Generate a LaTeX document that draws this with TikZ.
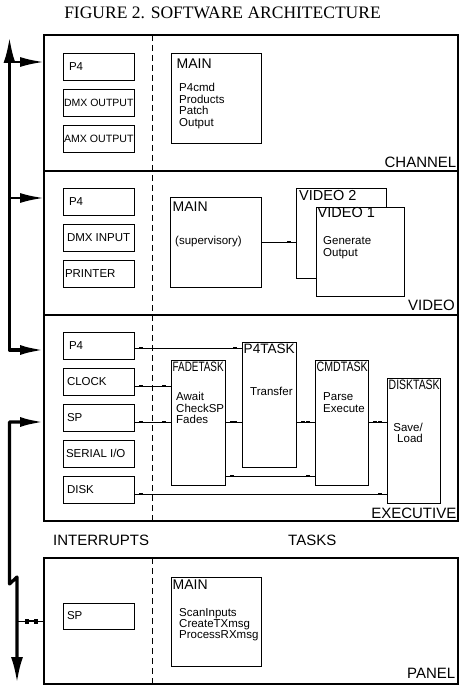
\documentclass[tikz,border=0pt]{standalone}
\usepackage{fontspec}
\setmainfont{Liberation Sans}
\newfontfamily\ttlfont{Liberation Serif}
\usepackage{graphicx}
\usetikzlibrary{arrows.meta,decorations.markings}
\newcommand{\fsz}[2]{\fontsize{#1}{#2}\selectfont}
\newcommand{\tsk}[1]{\resizebox{51pt}{9.5pt}{#1}}
\newcommand{\lbl}[1]{\makebox[63pt][l]{#1}}
\newcommand{\wlbl}[1]{\makebox[63pt][l]{\hspace{-3pt}\resizebox{69.5pt}{!}{#1}}}
\begin{document}
\begin{tikzpicture}[x=1pt,y=-1pt,
  frame/.style={draw,line width=2pt,inner sep=0pt,outer sep=0pt,anchor=north west},
  sbox/.style={draw,line width=0.8pt,outer sep=0pt,minimum width=71pt,minimum height=27pt,inner xsep=4pt,inner ysep=0pt,anchor=north west,font=\fsz{11.5}{12}},
  bbox/.style={draw,line width=0.8pt,outer sep=0pt,inner sep=0pt,fill=white,anchor=north west},
  txt/.style={inner sep=0pt,anchor=west},
  mtxt/.style={inner sep=0pt,anchor=north west,align=left,font=\fsz{11.5}{11.7}},
  sect/.style={inner sep=0pt,anchor=east,font=\fsz{15}{17}},
  dashln/.style={line width=0.8pt,dash pattern=on 6pt off 4pt},
  conn/.style={line width=0.8pt},
  tboth/.style={postaction={decorate,decoration={markings,
     mark=at position 7pt with {\fill (-2pt,-1.3pt) rectangle (2pt,1.3pt);},
     mark=at position -7pt with {\fill (-2pt,-1.3pt) rectangle (2pt,1.3pt);}}}},
  tend/.style={postaction={decorate,decoration={markings,
     mark=at position -7pt with {\fill (-2pt,-1.3pt) rectangle (2pt,1.3pt);}}}},
  bus/.style={line width=3.2pt,line join=round},
  arm/.style={line width=2.4pt},
  ]
\useasboundingbox (0,0) rectangle (467,692);

% title
\node[inner sep=0pt,font=\ttlfont\fsz{17.5}{19}] (title) at (222.5,13) {FIGURE 2. SOFTWARE ARCHITECTURE};

% frames
\node[frame,minimum width=414pt,minimum height=136pt] (chan) at (44,35) {};
\node[frame,minimum width=414pt,minimum height=144pt] (vid) at (44,171) {};
\node[frame,minimum width=414pt,minimum height=206pt] (exec) at (44,315) {};
\node[frame,minimum width=414pt,minimum height=126pt] (panel) at (44,558) {};

% dashed separators
\coordinate (dashx) at (152,0);
\draw[dashln] (chan.north -| dashx) -- (exec.south -| dashx);
\draw[dashln] (panel.north -| dashx) -- (panel.south -| dashx);

% small boxes
\node[sbox] (cp4) at (63,53) {\lbl{\hspace{2pt}P4}};
\node[sbox] (cdmx) at (63,89) {\wlbl{DMX OUTPUT}};
\node[sbox] (camx) at (63,125) {\wlbl{AMX OUTPUT}};
\node[sbox] (vp4) at (63,188) {\lbl{\hspace{2pt}P4}};
\node[sbox] (vdmx) at (63,224) {\lbl{DMX INPUT}};
\node[sbox] (vprn) at (63,260) {\lbl{\hspace{-2pt}PRINTER}};
\node[sbox] (xp4) at (63,332) {\lbl{\hspace{2pt}P4}};
\node[sbox] (xclk) at (63,368) {\lbl{CLOCK}};
\node[sbox] (xsp) at (63,404) {\lbl{SP}};
\node[sbox] (xser) at (63,440) {\lbl{\hspace{-1pt}SERIAL I/O}};
\node[sbox] (xdsk) at (63,476) {\lbl{DISK}};
\node[sbox,minimum height=26pt] (psp) at (63,603) {\lbl{SP}};

% big boxes
\node[bbox,minimum width=90pt,minimum height=90pt] (cmain) at (171,53) {};
\node[bbox,minimum width=91pt,minimum height=90pt] (vmain) at (170,197) {};
\node[bbox,minimum width=90pt,minimum height=90pt] (vid2) at (296,188) {};
\node[bbox,minimum width=88pt,minimum height=89pt] (vid1) at (316,207) {};
\node[bbox,minimum width=54pt,minimum height=125pt] (fade) at (171,360) {};
\node[bbox,minimum width=54pt,minimum height=125pt] (p4task) at (242,342) {};
\node[bbox,minimum width=53pt,minimum height=125pt] (cmd) at (315,360) {};
\node[bbox,minimum width=53pt,minimum height=125pt] (disktask) at (387,378) {};
\node[bbox,minimum width=90pt,minimum height=89pt] (pmain) at (171,577) {};

% texts in big boxes
\node[txt,font=\fsz{14}{16}] (cmaint) at (176.5,63.5) {MAIN};
\node[mtxt] (cmainl) at (179,83) {P4cmd\\Products\\Patch\\Output};
\node[txt,font=\fsz{14}{16}] (vmaint) at (172.5,206.5) {MAIN};
\node[txt,font=\fsz{11.5}{12}] (vmainl) at (175,242) {(supervisory)};
\node[txt,font=\fsz{14.5}{16}] (vid2t) at (299,195.5) {VIDEO 2};
\node[txt,font=\fsz{14.5}{16}] (vid1t) at (317.5,213) {VIDEO 1};
\node[mtxt] (vid1l) at (323,236.5) {Generate\\Output};
\node[txt] (fadet) at (172.5,367) {\tsk{FADETASK}};
\node[mtxt] (fadel) at (176,392) {Await\\CheckSP\\Fades};
\node[txt] (p4taskt) at (243.5,348.5) {\tsk{P4TASK}};
\node[txt,font=\fsz{11.5}{12}] (p4taskl) at (250,391) {Transfer};
\node[txt] (cmdt) at (316.5,367) {\tsk{CMDTASK}};
\node[mtxt] (cmdl) at (323,392.5) {Parse\\Execute};
\node[txt] (diskt) at (388.5,384.5) {\tsk{DISKTASK}};
\node[inner sep=0pt,anchor=north east,align=right,font=\fsz{11.5}{11}] (diskl) at (423,423) {Save/\\Load};
\node[txt,font=\fsz{14}{16}] (pmaint) at (172.5,585) {MAIN};
\node[mtxt,font=\fsz{11.5}{11.2}] (pmainl) at (179,608) {ScanInputs\\CreateTXmsg\\ProcessRXmsg};

% section labels
\node[sect] (lchan) at (456.5,162.5) {CHANNEL};
\node[sect] (lvid) at (455,305.5) {VIDEO};
\node[sect] (lexec) at (456.5,513.5) {EXECUTIVE};
\node[sect] (lpanel) at (455.5,673.5) {PANEL};
\node[txt,font=\fsz{15}{17}] (lint) at (53,540.5) {INTERRUPTS};
\node[txt,font=\fsz{15}{17}] (ltask) at (288,540.5) {TASKS};

% connectors inside
\draw[conn,tend] (vmain.east) -- (vmain.east -| vid2.west);
\coordinate (yp4) at ([yshift=-2.5pt]xp4.east);
\coordinate (yclk) at ([yshift=-4.5pt]xclk.east);
\coordinate (ysp) at ([yshift=-4.5pt]xsp.east);
\coordinate (ydsk) at ([yshift=-4.5pt]xdsk.east);
\coordinate (yfc) at (0,476);
\draw[conn,tboth] (yp4) -- (yp4 -| p4task.west);
\draw[conn,tboth] (yclk) -- (yclk -| fade.west);
\draw[conn,tboth] (ysp) -- (ysp -| fade.west);
\draw[conn,tboth] (ysp -| fade.east) -- (ysp -| p4task.west);
\draw[conn,tboth] (ysp -| p4task.east) -- (ysp -| cmd.west);
\draw[conn,tboth] (ysp -| cmd.east) -- (ysp -| disktask.west);
\draw[conn,tboth] (yfc -| fade.east) -- (yfc -| cmd.west);
\draw[conn,tboth] (ydsk) -- (ydsk -| disktask.west);

% buses
\coordinate (b1) at (9.5,62);
\coordinate (b2) at (9.5,198);
\coordinate (b3) at (9.5,350);
\coordinate (b4) at (9.5,422);
\coordinate (bz1) at (9.5,584);
\coordinate (bz2) at (17,577);
\coordinate (bend) at (17,683);
\coordinate (bsp) at (17,621);
\draw[bus,{Latex[length=26pt,width=12pt]}-{Latex[length=24pt,width=10pt]}] (9.5,37) -- (b3) -- (b3 -| exec.west);
\draw[arm,-{Latex[length=24pt,width=10pt]}] (b1) -- (b1 -| chan.west);
\draw[arm,-{Latex[length=24pt,width=10pt]}] (b2) -- (b2 -| vid.west);
\draw[bus,{Latex[length=24pt,width=10pt]}-{Latex[length=26pt,width=12pt]}] (b4 -| exec.west) -- (b4) -- (bz1) -- (bz2) -- (bend);
\draw[conn] (bsp) -- (bsp -| panel.west);
\draw[line width=2.4pt] (25,621) -- (37,621);
\fill (24.5,618.5) rectangle (28.5,623.5);
\fill (33.5,618.5) rectangle (37.5,623.5);
\end{tikzpicture}
\end{document}
